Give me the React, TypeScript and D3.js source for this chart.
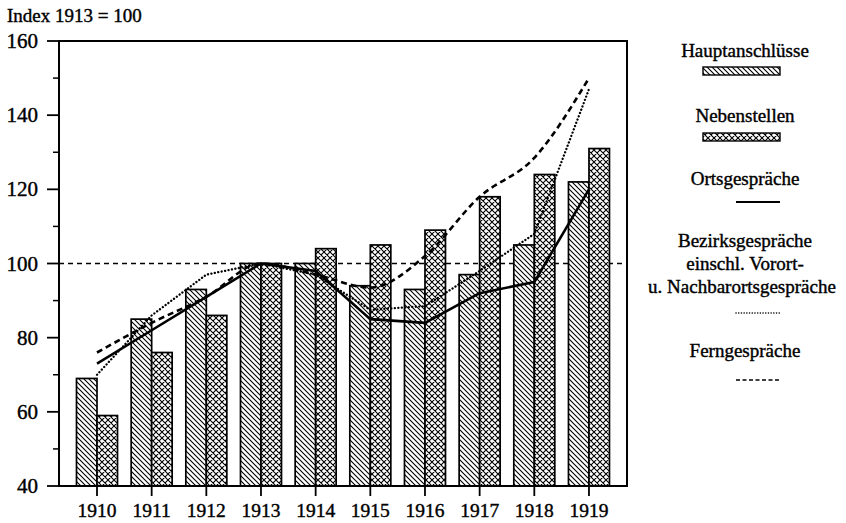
import React from "react";
import * as d3 from "d3";

const years = ["1910", "1911", "1912", "1913", "1914", "1915", "1916", "1917", "1918", "1919"];
const hauptanschluesse = [69, 85, 93, 100, 100, 94, 93, 97, 105, 122];
const nebenstellen = [59, 76, 86, 100, 104, 105, 109, 118, 124, 131];
const ortsgespraeche = [73, 82, 91, 100, 98, 85, 84, 92, 95, 120];
const bezirksgespraeche = [70, 86, 97, 100, 97, 87.5, 88.5, 98, 108, 147];
const ferngespraeche = [76, 84, 91, 100, 97, 93.5, 102, 118, 128.5, 150];
const yTicks = [40, 60, 80, 100, 120, 140, 160];
const yMinor = [50, 70, 90, 110, 130, 150];

const W = 846;
const H = 523;
const FONT = "'Liberation Serif', 'Times New Roman', serif";

export default function App() {
  const left = 59, right = 627, top = 41, bottom = 486;
  const y = d3.scaleLinear().domain([40, 160]).range([bottom, top]);
  const x = d3.scaleBand<string>().domain(years).range([69.67, 616.3]).paddingInner(0).paddingOuter(0);
  const cx = (yr: string) => (x(yr) as number) + x.bandwidth() / 2;
  const bw = 20.5;

  const lineGen = (vals: number[], curve: d3.CurveFactory) =>
    d3.line<number>().x((_, i) => cx(years[i])).y((v) => y(v)).curve(curve)(vals) || "";

  const textStyle = { fontFamily: FONT, fill: "#000", stroke: "#000", strokeWidth: 0.4 } as React.CSSProperties;

  return (
    <svg width={W} height={H} style={{ position: "absolute", left: 0, top: 0, background: "#fff" }}>
      <defs>
        <pattern id="diag" patternUnits="userSpaceOnUse" width={5} height={5}>
          <rect width={5} height={5} fill="#fff" />
          <path d="M0,0 L5,5 M-1,4 L1,6 M4,-1 L6,1" stroke="#000" strokeWidth={1.1} />
        </pattern>
        <pattern id="cross" patternUnits="userSpaceOnUse" width={6} height={6}>
          <rect width={6} height={6} fill="#fff" />
          <path d="M0,0 L6,6 M-1,5 L1,7 M5,-1 L7,1 M0,6 L6,0 M-1,1 L1,-1 M5,7 L7,5" stroke="#000" strokeWidth={1.1} />
        </pattern>
      </defs>

      {/* title */}
      <text x={7} y={22} fontSize={19} style={textStyle}>Index 1913 = 100</text>

      {/* reference line at 100 */}
      <line x1={left} x2={right} y1={y(100)} y2={y(100)} stroke="#000" strokeWidth={1.3} strokeDasharray="5,4" />

      {/* bars */}
      {years.map((yr, i) => (
        <g key={yr}>
          <rect x={cx(yr) - bw} y={y(hauptanschluesse[i])} width={bw} height={bottom - y(hauptanschluesse[i])}
            fill="url(#diag)" stroke="#000" strokeWidth={1.7} />
          <rect x={cx(yr)} y={y(nebenstellen[i])} width={bw} height={bottom - y(nebenstellen[i])}
            fill="url(#cross)" stroke="#000" strokeWidth={1.7} />
        </g>
      ))}

      {/* lines */}
      <path d={lineGen(bezirksgespraeche, d3.curveLinear)} fill="none" stroke="#000" strokeWidth={2.3} strokeDasharray="0.1,3.4" strokeLinecap="round" />
      <path d={lineGen(ferngespraeche, d3.curveMonotoneX)} fill="none" stroke="#000" strokeWidth={2.6} strokeDasharray="6,4" />
      <path d={lineGen(ortsgespraeche, d3.curveLinear)} fill="none" stroke="#000" strokeWidth={2.6} strokeLinejoin="round" />

      {/* frame */}
      <rect x={left} y={top} width={right - left} height={bottom - top} fill="none" stroke="#000" strokeWidth={2} />

      {/* y axis ticks */}
      {yTicks.map((t) => (
        <g key={t}>
          <line x1={47} x2={left} y1={y(t)} y2={y(t)} stroke="#000" strokeWidth={1.8} />
          <text x={38} y={y(t) + 7} fontSize={21} textAnchor="end" style={textStyle}>{t}</text>
        </g>
      ))}
      {yMinor.map((t) => (
        <line key={t} x1={53} x2={left} y1={y(t)} y2={y(t)} stroke="#000" strokeWidth={1.5} />
      ))}

      {/* x axis ticks */}
      {years.map((yr) => (
        <g key={yr}>
          <line x1={cx(yr)} x2={cx(yr)} y1={bottom} y2={bottom + 10} stroke="#000" strokeWidth={1.8} />
          <text x={cx(yr)} y={517} fontSize={19.5} textAnchor="middle" style={textStyle}>{yr}</text>
        </g>
      ))}

      {/* legend */}
      <g>
        <text x={745} y={57} fontSize={19} textAnchor="middle" style={textStyle}>Hauptanschlüsse</text>
        <rect x={703} y={67} width={77} height={8} fill="url(#diag)" stroke="#000" strokeWidth={1.4} />

        <text x={745} y={122} fontSize={19} textAnchor="middle" style={textStyle}>Nebenstellen</text>
        <rect x={703} y={133} width={77} height={8} fill="url(#cross)" stroke="#000" strokeWidth={1.4} />

        <text x={745} y={185} fontSize={19} textAnchor="middle" style={textStyle}>Ortsgespräche</text>
        <line x1={736} x2={780} y1={202} y2={202} stroke="#000" strokeWidth={2} />

        <text x={745} y={247} fontSize={19} textAnchor="middle" style={textStyle}>Bezirksgespräche</text>
        <text x={745} y={270} fontSize={19} textAnchor="middle" style={textStyle}>einschl. Vorort-</text>
        <text x={742} y={293} fontSize={19} textAnchor="middle" style={textStyle}>u. Nachbarortsgespräche</text>
        <line x1={736} x2={780} y1={313} y2={313} stroke="#000" strokeWidth={1.5} strokeDasharray="0.1,2.6" strokeLinecap="round" />

        <text x={745} y={357} fontSize={19} textAnchor="middle" style={textStyle}>Ferngespräche</text>
        <line x1={736} x2={780} y1={380} y2={380} stroke="#000" strokeWidth={1.6} strokeDasharray="4,2.5" />
      </g>
    </svg>
  );
}
